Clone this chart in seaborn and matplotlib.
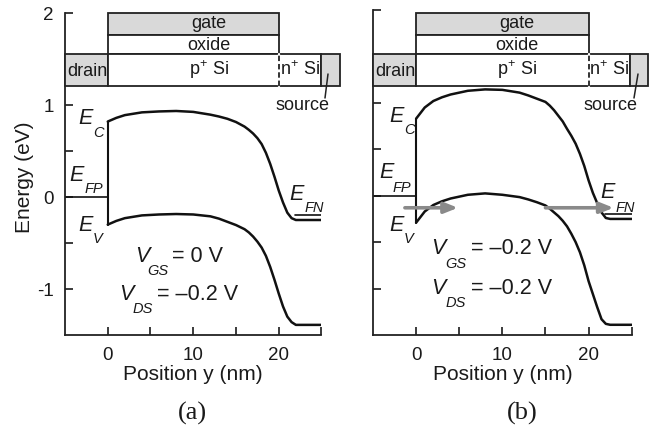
import matplotlib
matplotlib.use("Agg")
import matplotlib.pyplot as plt
from matplotlib.patches import Rectangle
import seaborn as sns

W, H = 660, 430

# band edges
pos_a = [0, 1, 2, 4, 6, 8, 10, 12, 13, 14, 15, 16, 16.5, 17, 17.5, 18, 18.5, 19, 19.5, 20, 20.5, 21, 21.5, 22, 25]
ec_a = [0.82, 0.86, 0.89, 0.92, 0.93, 0.935, 0.925, 0.895, 0.875, 0.85, 0.815, 0.765, 0.73, 0.69, 0.64, 0.575, 0.48, 0.36, 0.22, 0.07, -0.06, -0.17, -0.23, -0.25, -0.25]
ev_a = [-0.30, -0.26, -0.23, -0.20, -0.19, -0.185, -0.19, -0.21, -0.235, -0.27, -0.305, -0.35, -0.385, -0.43, -0.485, -0.55, -0.64, -0.76, -0.90, -1.05, -1.19, -1.30, -1.36, -1.39, -1.39]

pos_b = [0, 0.5, 1, 2, 3, 4, 6, 8, 10, 12, 13, 14, 15, 15.5, 16, 16.5, 17, 17.5, 18, 18.5, 19, 19.5, 20, 20.5, 21, 21.5, 22, 22.5, 25]
ec_b = [0.83, 0.89, 0.95, 1.02, 1.06, 1.09, 1.13, 1.145, 1.14, 1.11, 1.08, 1.045, 1.01, 0.97, 0.92, 0.86, 0.80, 0.72, 0.645, 0.56, 0.45, 0.32, 0.165, 0.03, -0.08, -0.18, -0.24, -0.25, -0.25]
ev_b = [-0.29, -0.23, -0.17, -0.10, -0.06, -0.03, 0.01, 0.025, 0.01, -0.015, -0.04, -0.07, -0.105, -0.14, -0.18, -0.22, -0.27, -0.33, -0.41, -0.50, -0.61, -0.75, -0.92, -1.06, -1.20, -1.33, -1.38, -1.39, -1.39]

efp_x = [-5, 0]
efp_y = [0, 0]
efn_x = [21.9, 25]
efn_y = [-0.20, -0.20]

x_ticks = [0, 5, 10, 15, 20, 25]
x_labels = ["0", "", "10", "", "20", ""]
y_ticks = [-1, -0.5, 0, 0.5, 1, 2]
y_labels = ["-1", "", "0", "", "1", "2"]

sns.set_style("ticks")
plt.rcParams["font.family"] = ["Liberation Sans", "DejaVu Sans"]
plt.rcParams["mathtext.default"] = "regular"
plt.rcParams["mathtext.fontset"] = "custom"
plt.rcParams["mathtext.rm"] = "Liberation Sans"


def put(fig, px, py, s, size=13, **kw):
    kw.setdefault("ha", "center")
    fig.text(px / W, 1 - py / H, s, fontsize=size, va="center", color="#1a1a1a", **kw)


def sym(fig, px, py, sx, sy, main, sub):
    put(fig, px, py, main, size=15.5, style="italic")
    put(fig, sx, sy, sub, size=10.5, style="italic")


def panel(fig, box, pos, ec, ev, levels, src, ticklabels):
    left, right, top, bottom = box
    ax = fig.add_axes([left / W, 1 - bottom / H, (right - left) / W, (bottom - top) / H])
    sns.lineplot(x=pos, y=ec, ax=ax, color="#111111", lw=1.8, estimator=None, sort=False)
    sns.lineplot(x=pos, y=ev, ax=ax, color="#111111", lw=1.8, estimator=None, sort=False)
    sns.lineplot(x=efp_x, y=efp_y, ax=ax, color="#111111", lw=1.2, estimator=None)
    sns.lineplot(x=efn_x, y=efn_y, ax=ax, color="#111111", lw=1.2, estimator=None)
    ax.plot([0, 0], [ev[0], ec[0]], color="#111111", lw=1.5)

    # device cross-section on top of the band diagram
    g_top, g_bot, ox_bot, si_bot = levels
    si_end, src_end = src
    box_kw = dict(ec="#222222", lw=1.3, clip_on=False, zorder=3)
    ax.add_patch(Rectangle((0, g_bot), 20, g_top - g_bot, fc="#d9d9d9", **box_kw))
    ax.add_patch(Rectangle((0, ox_bot), 20, g_bot - ox_bot, fc="white", **box_kw))
    ax.add_patch(Rectangle((-5, si_bot), 5, ox_bot - si_bot, fc="#d9d9d9", **box_kw))
    ax.add_patch(Rectangle((0, si_bot), si_end, ox_bot - si_bot, fc="white", **box_kw))
    ax.add_patch(Rectangle((si_end, si_bot), src_end - si_end, ox_bot - si_bot, fc="#d9d9d9", **box_kw))
    ax.plot([20, 20], [si_bot, ox_bot], color="white", lw=1.6, clip_on=False, zorder=4)
    ax.plot([20, 20], [si_bot, ox_bot], color="#222222", lw=1.3, ls=(0, (3, 1.6)), clip_on=False, zorder=5)

    ax.set_xlim(-5, 25)
    ax.set_ylim(-1.5, 2)
    ax.set_xticks(x_ticks)
    ax.set_xticklabels(x_labels)
    ax.set_yticks(y_ticks)
    ax.set_yticklabels(y_labels if ticklabels else [])
    ax.tick_params(direction="in", length=5.5, width=1.2, labelsize=13.5, colors="#1a1a1a")
    ax.tick_params(axis="x", pad=9)
    ax.tick_params(axis="y", pad=8)
    ax.set_xlabel("")
    ax.set_ylabel("")
    for s in ["top", "right"]:
        ax.spines[s].set_visible(False)
    for s in ["left", "bottom"]:
        ax.spines[s].set_linewidth(1.3)
        ax.spines[s].set_color("#222222")
    ax.patch.set_alpha(0)
    return ax


fig = plt.figure(figsize=(W / 100, H / 100), dpi=100)

ax_a = panel(fig, (65, 321.5, 13, 335), pos_a, ec_a, ev_a, [2.0, 1.76, 1.555, 1.205], [25, 27.2], True)
ax_b = panel(fig, (373, 631.7, 10, 335), pos_b, ec_b, ev_b, [1.97, 1.73, 1.53, 1.185], [24.8, 26.9], False)

# leader lines to the source contact
ax_a.annotate("", xy=(325 / W, 1 - 98 / H), xycoords="figure fraction", xytext=(328 / W, 1 - 74 / H),
              textcoords="figure fraction", arrowprops=dict(arrowstyle="-", color="#222222", lw=1.1, shrinkA=0, shrinkB=0), zorder=6)
ax_b.annotate("", xy=(634 / W, 1 - 98 / H), xycoords="figure fraction", xytext=(638 / W, 1 - 74 / H),
              textcoords="figure fraction", arrowprops=dict(arrowstyle="-", color="#222222", lw=1.1, shrinkA=0, shrinkB=0), zorder=6)

# tunnelling arrows in (b)
for x0, x1 in [(-1.3, 4.85), (15, 22.9)]:
    ax_b.annotate("", xy=(x1, -0.13), xytext=(x0, -0.13),
                  arrowprops=dict(arrowstyle="-|>,head_length=0.8,head_width=0.32", color="#8a8a8a", lw=2.6, shrinkA=0, shrinkB=0), zorder=6)

# text for (a)
put(fig, 209, 24, "gate")
put(fig, 209, 46, "oxide")
put(fig, 209, 70, "p$^{+}$ Si")
put(fig, 87, 71, "drain")
put(fig, 300, 70, "n$^{+}$ Si")
put(fig, 302, 106, "source")
sym(fig, 86, 119, 98, 133, "E", "C")
sym(fig, 77, 175, 94, 189, "E", "FP")
sym(fig, 297, 194, 314, 208, "E", "FN")
sym(fig, 86, 225, 98, 239, "E", "V")
sym(fig, 142, 257, 158, 271, "V", "GS")
put(fig, 198, 257, "= 0 V", size=15.5)
sym(fig, 126, 295, 143, 309, "V", "DS")
put(fig, 198, 295, "= –0.2 V", size=15.5)
put(fig, 193, 374, "Position y (nm)", size=15)
put(fig, 24, 177, "Energy (eV)", size=15, rotation=90)
put(fig, 192, 413, "(a)", size=19, family="Liberation Serif")

# text for (b)
put(fig, 517, 24, "gate")
put(fig, 517, 46, "oxide")
put(fig, 517, 70, "p$^{+}$ Si")
put(fig, 395, 71, "drain")
put(fig, 609, 70, "n$^{+}$ Si")
put(fig, 610, 106, "source")
sym(fig, 397, 116, 409, 130, "E", "C")
sym(fig, 387, 173, 402, 188, "E", "FP")
sym(fig, 608, 192, 625, 208, "E", "FN")
sym(fig, 397, 225, 409, 239, "E", "V")
sym(fig, 438, 249, 456, 264, "V", "GS")
put(fig, 512, 249, "= –0.2 V", size=15.5)
sym(fig, 438, 288, 456, 303, "V", "DS")
put(fig, 512, 288, "= –0.2 V", size=15.5)
put(fig, 503, 374, "Position y (nm)", size=15)
put(fig, 522, 413, "(b)", size=19, family="Liberation Serif")

fig.savefig("out.png", dpi=100)
